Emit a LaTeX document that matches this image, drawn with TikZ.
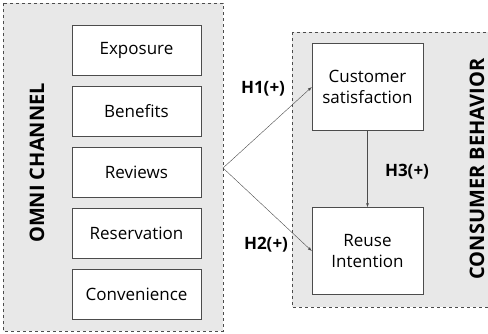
\documentclass[tikz,border=0pt]{standalone}
\usepackage{fontspec}
\setmainfont{Open Sans}
\usetikzlibrary{positioning}

\begin{document}
\begin{tikzpicture}[x=1pt,y=-1pt,
	box/.style={draw=black!70, fill=white, minimum width=129pt, minimum height=50pt, align=center, font=\fontsize{17}{21}\selectfont},
	bigbox/.style={box, minimum width=111pt, minimum height=87pt},
	hyp/.style={font=\bfseries\fontsize{17}{20}\selectfont},
	group/.style={font=\bfseries\fontsize{20}{23}\selectfont, rotate=90}]
\useasboundingbox (0,0) rectangle (488,333);
\filldraw[fill=gray!18, draw=black!70, dashed] (3,3) rectangle (223,331);
\filldraw[fill=gray!18, draw=black!70, dashed] (292,32) rectangle (492,307);
\foreach \name/\txt [count=\i] in {expo/Exposure, bene/Benefits, revi/Reviews, rese/Reservation, conv/Convenience}
{
	\node[box] (\name) at (136.5, 50+61*\i-61) {\txt};
}
\node[group] (omni) at (37,163) {OMNI CHANNEL};
\node[group] (cons) at (477,169) {CONSUMER BEHAVIOR};
\node[bigbox] (sati) at (367.5,87) {Customer\\satisfaction};
\node[bigbox] (reus) at (367.5,251) {Reuse\\Intention};
\coordinate (split) at (223,168);
\draw[black!70, -latex] (split) -- (sati.west);
\draw[black!70, -latex] (split) -- (reus.west);
\draw[black!70, -latex] (sati) -- (reus);
\node[hyp] (h1) at (263,89) {H1(+)};
\node[hyp] (h2) at (266,245) {H2(+)};
\node[hyp] (h3) at (407,172) {H3(+)};
\end{tikzpicture}
\end{document}
